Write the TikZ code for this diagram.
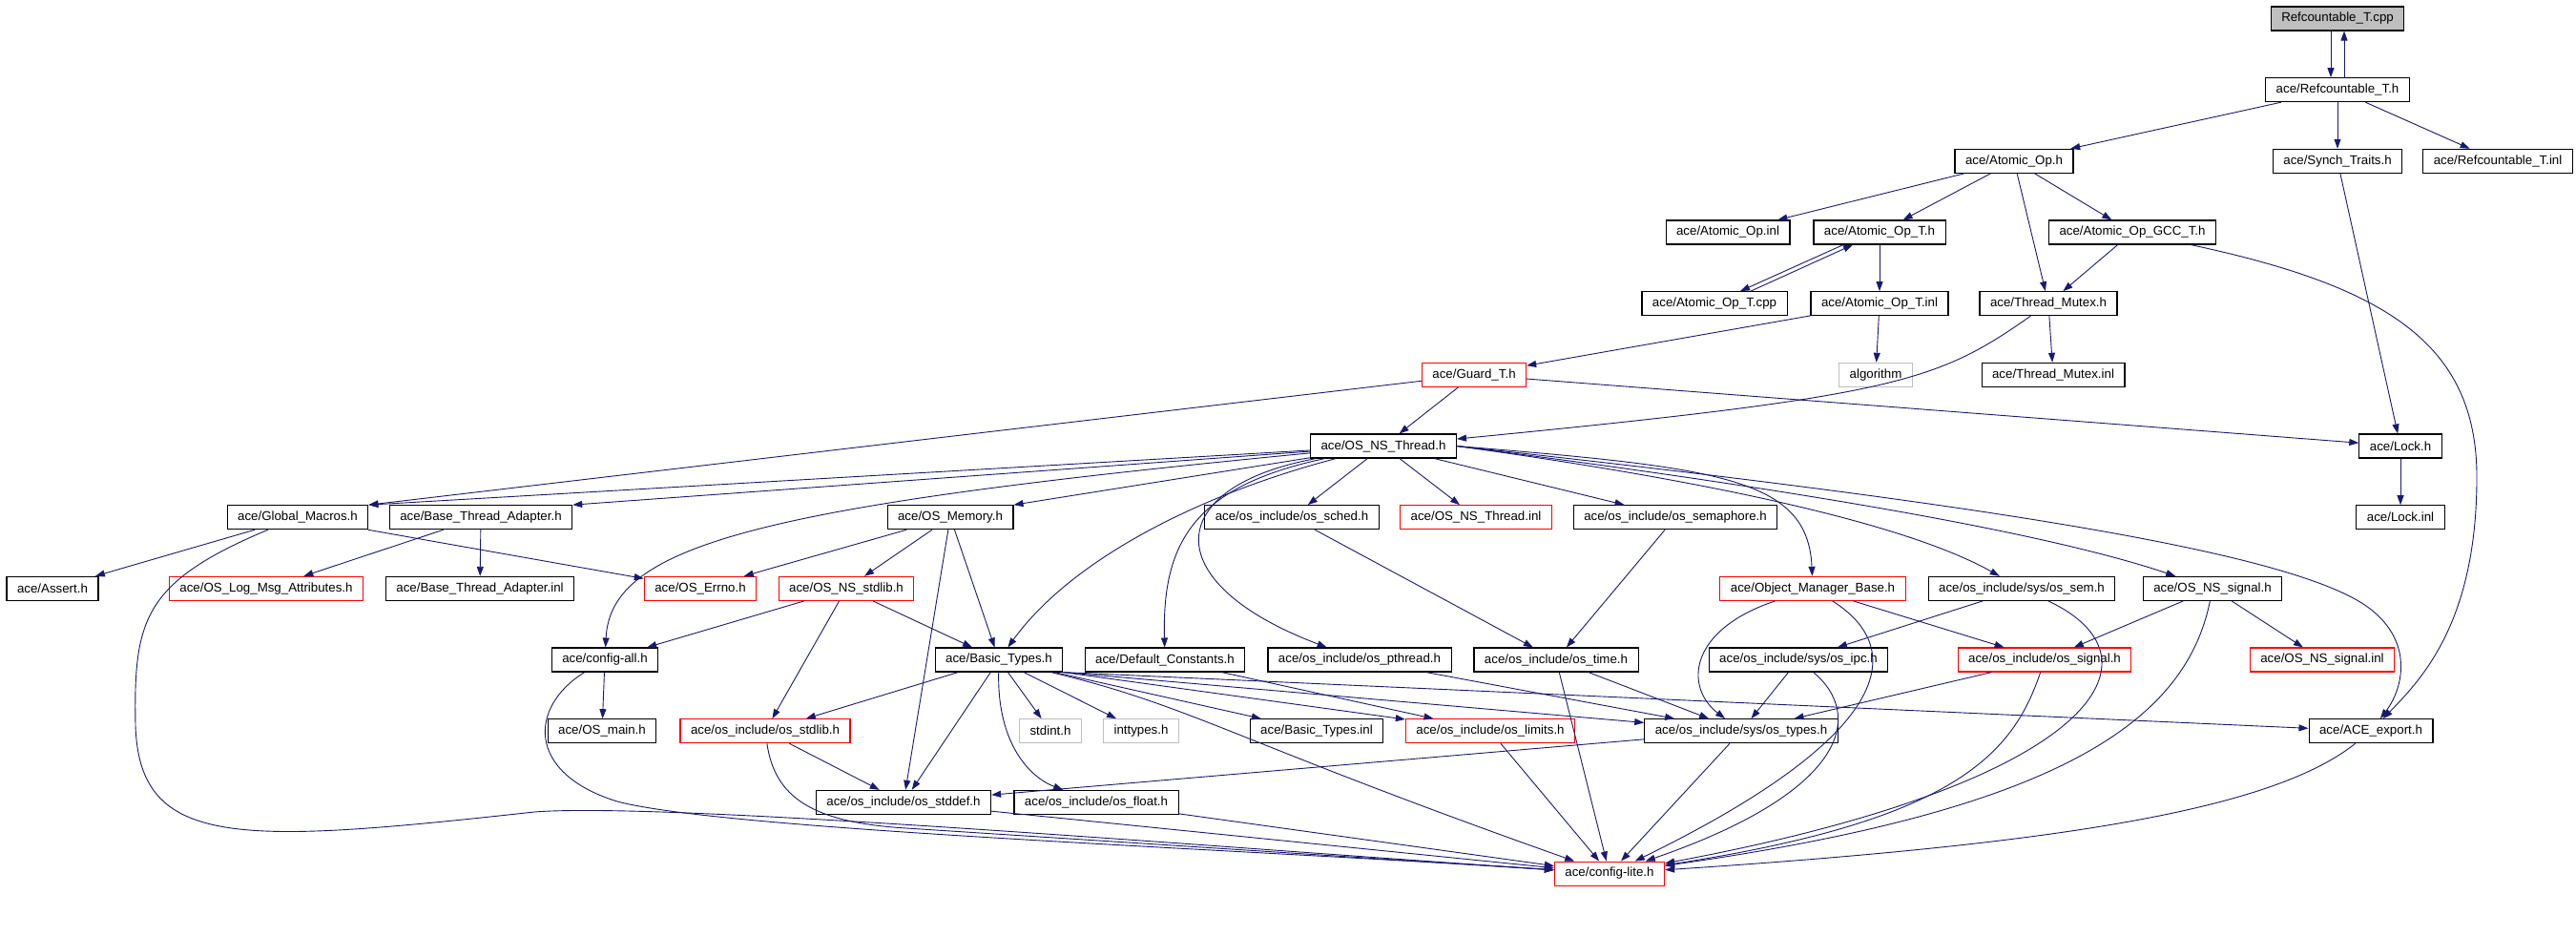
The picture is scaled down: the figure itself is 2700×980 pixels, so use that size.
\documentclass[tikz,border=0pt]{standalone}
\usepackage{fontspec}
\setmainfont{Liberation Sans}
\usetikzlibrary{positioning,arrows.meta}
\definecolor{edgeblue}{RGB}{25,25,112}
\definecolor{rootgray}{RGB}{191,191,191}
\tikzstyle{hdr} = [rectangle, draw=black, line width=1.1pt, minimum height=25pt, inner xsep=11pt, inner ysep=0pt, font=\fontsize{13.3}{16}\selectfont]
\tikzstyle{redhdr} = [hdr, draw=red]
\tikzstyle{syshdr} = [hdr, draw=rootgray]
\tikzstyle{root} = [hdr, fill=rootgray]
\tikzstyle{arrow} = [draw=edgeblue, line width=0.9pt, -{Triangle[length=10pt,width=7pt]}]

\begin{document}
\begin{tikzpicture}[x=1pt,y=-1pt,node distance=74.67pt]
\useasboundingbox (0,0) rectangle (2700,980);
 \node (cpp) [root] at (2450,19.5) {Refcountable\_T.cpp};
 \node (refh) [hdr,below of=cpp] {ace/Refcountable\_T.h};
  \node (atomic) [hdr,below of=refh,xshift=-339pt] {ace/Atomic\_Op.h};
  \node (synch) [hdr,below of=refh] {ace/Synch\_Traits.h};
  \node (refinl) [hdr,below of=refh,xshift=168pt] {ace/Refcountable\_T.inl};
\node (atomicinl) [hdr,below of=atomic,xshift=-300pt] {ace/Atomic\_Op.inl};
\node (atomict) [hdr,below of=atomic,xshift=-141pt] {ace/Atomic\_Op\_T.h};
\node (gcc) [hdr,below of=atomic,xshift=124pt] {ace/Atomic\_Op\_GCC\_T.h};
\node (atomictcpp) [hdr,below of=atomict,xshift=-173pt] {ace/Atomic\_Op\_T.cpp};
\node (atomictinl) [hdr,below of=atomict] {ace/Atomic\_Op\_T.inl};
\node (mutex) [hdr,below of=gcc,xshift=-88pt] {ace/Thread\_Mutex.h};
\node (guard) [redhdr,below of=atomictinl,xshift=-425pt] {ace/Guard\_T.h};
\node (algorithm) [syshdr,below of=atomictinl,xshift=-4pt] {algorithm};
\node (mutexinl) [hdr,below of=mutex,xshift=5pt] {ace/Thread\_Mutex.inl};
  \node (thread) [hdr,below of=guard,xshift=-95pt] {ace/OS\_NS\_Thread.h};
  \node (lock) [hdr,below of=mutexinl,xshift=364pt] {ace/Lock.h};
\node (macros) [hdr,below of=thread,xshift=-1138pt] {ace/Global\_Macros.h};
\node (bta) [hdr,below of=thread,xshift=-946pt] {ace/Base\_Thread\_Adapter.h};
\node (memory) [hdr,below of=thread,xshift=-454pt] {ace/OS\_Memory.h};
\node (sched) [hdr,below of=thread,xshift=-96pt] {ace/os\_include/os\_sched.h};
\node (threadinl) [redhdr,below of=thread,xshift=97pt] {ace/OS\_NS\_Thread.inl};
\node (semaphore) [hdr,below of=thread,xshift=306pt] {ace/os\_include/os\_semaphore.h};
\node (lockinl) [hdr,below of=lock] {ace/Lock.inl};
\node (assert) [hdr,below of=macros,xshift=-257pt] {ace/Assert.h};
\node (logmsg) [redhdr,below of=bta,xshift=-225pt] {ace/OS\_Log\_Msg\_Attributes.h};
\node (btainl) [hdr,below of=bta,xshift=-1pt] {ace/Base\_Thread\_Adapter.inl};
\node (errno) [redhdr,below of=memory,xshift=-262pt] {ace/OS\_Errno.h};
\node (stdlib) [redhdr,below of=memory,xshift=-109pt] {ace/OS\_NS\_stdlib.h};
\node (omb) [redhdr,below of=semaphore,xshift=144pt] {ace/Object\_Manager\_Base.h};
\node (syssem) [hdr,below of=semaphore,xshift=363pt] {ace/os\_include/sys/os\_sem.h};
\node (signal) [hdr,below of=semaphore,xshift=563pt] {ace/OS\_NS\_signal.h};
\node (configall) [hdr,below of=stdlib,xshift=-253pt] {ace/config-all.h};
\node (basic) [hdr,below of=stdlib,xshift=160pt] {ace/Basic\_Types.h};
\node (defconst) [hdr,below of=stdlib,xshift=334pt] {ace/Default\_Constants.h};
\node (pthread) [hdr,below of=stdlib,xshift=538pt] {ace/os\_include/os\_pthread.h};
\node (time) [hdr,below of=omb,xshift=-269pt] {ace/os\_include/os\_time.h};
\node (ipc) [hdr,below of=omb,xshift=-15pt] {ace/os\_include/sys/os\_ipc.h};
\node (ossignal) [redhdr,below of=syssem,xshift=24pt] {ace/os\_include/os\_signal.h};
\node (signalinl) [redhdr,below of=signal,xshift=115pt] {ace/OS\_NS\_signal.inl};
\node (osmain) [hdr,below of=configall,xshift=-3pt] {ace/OS\_main.h};
\node (osstdlib) [redhdr,below of=basic,xshift=-245pt] {ace/os\_include/os\_stdlib.h};
\node (stdint) [syshdr,below of=basic,xshift=54pt] {stdint.h};
\node (inttypes) [syshdr,below of=basic,xshift=149pt] {inttypes.h};
\node (basicinl) [hdr,below of=basic,xshift=333pt] {ace/Basic\_Types.inl};
\node (limits) [redhdr,below of=basic,xshift=515pt] {ace/os\_include/os\_limits.h};
\node (types) [hdr,below of=ipc,xshift=-60pt] {ace/os\_include/sys/os\_types.h};
\node (export) [hdr,below of=signalinl,xshift=51pt] {ace/ACE\_export.h};
\node (stddef) [hdr,below of=osstdlib,xshift=145pt] {ace/os\_include/os\_stddef.h};
\node (float) [hdr,below of=osstdlib,xshift=347pt] {ace/os\_include/os\_float.h};
\node (lite) [redhdr,below of=float,xshift=538pt] {ace/config-lite.h};
\draw [arrow] ([xshift=-7pt]cpp.south) -- ([xshift=-7pt]refh.north);
\draw [arrow] ([xshift=7pt]refh.north) -- ([xshift=7pt]cpp.south);
\draw [arrow] (refh) -- (atomic);
\draw [arrow] (refh) -- (synch);
\draw [arrow] (refh) -- (refinl);
\draw [arrow] (atomic) -- (atomicinl);
\draw [arrow] (atomic) -- (atomict);
\draw [arrow] (atomic) -- (mutex);
\draw [arrow] (atomic) -- (gcc);
\draw [arrow] ([xshift=-38pt]atomict.south) -- ([xshift=27pt]atomictcpp.north);
\draw [arrow] ([xshift=38pt]atomictcpp.north) -- ([xshift=-28pt]atomict.south);
\draw [arrow] (atomict) -- (atomictinl);
\draw [arrow] (atomictinl) -- (algorithm);
\draw [arrow] (atomictinl) -- (guard);
\draw [arrow] (gcc) -- (mutex);
\draw [arrow] (gcc) .. controls (2500,300) and (2596,360) .. (2596,500) .. controls (2596,650) and (2540,710) .. (export);
\draw [arrow] (mutex) -- (mutexinl);
\draw [arrow] (mutex) .. controls (2030,400) and (1990,415) .. (thread);
\draw [arrow] (synch) -- (lock);
\draw [arrow] (guard) -- (thread);
\draw [arrow] (guard) -- (lock);
\draw [arrow] (guard) -- (macros.north east);
\draw [arrow] (lock) -- (lockinl);
\draw [arrow] (thread) -- (macros.north east);
\draw [arrow] (thread) -- (bta.north east);
\draw [arrow] (thread) -- (memory.north east);
\draw [arrow] (thread) .. controls (800,530) and (640,570) .. (configall);
\draw [arrow] (thread) .. controls (1250,520) and (1120,590) .. (basic);
\draw [arrow] (thread) .. controls (1250,510) and (1218,570) .. (defconst);
\draw [arrow] (thread) .. controls (1220,510) and (1210,610) .. (pthread);
\draw [arrow] (thread) -- (sched);
\draw [arrow] (thread) -- (threadinl);
\draw [arrow] (thread) -- (semaphore);
\draw [arrow] (thread.east) .. controls (1800,490) and (1895,500) .. (omb);
\draw [arrow] (thread.east) .. controls (1800,505) and (2000,550) .. (syssem);
\draw [arrow] (thread.east) .. controls (1900,515) and (2150,560) .. (signal);
\draw [arrow] (thread.east) .. controls (2100,530) and (2400,580) .. (2480,635) .. controls (2530,670) and (2520,720) .. (export);
\draw [arrow] (macros) -- (assert);
\draw [arrow] (macros) -- (errno);
\draw [arrow] (macros) .. controls (150,610) and (140,650) .. (142,760) .. controls (146,890) and (250,885) .. (560,851) .. controls (700,840) and (1300,890) .. (lite);
\draw [arrow] (bta) -- (logmsg);
\draw [arrow] (bta) -- (btainl);
\draw [arrow] (memory) -- (errno);
\draw [arrow] (memory) -- (stdlib);
\draw [arrow] (memory) -- (stddef);
\draw [arrow] (memory) -- (basic);
\draw [arrow] (stdlib) -- (configall);
\draw [arrow] (stdlib) -- (osstdlib);
\draw [arrow] (stdlib) -- (basic);
\draw [arrow] (configall) -- (osmain);
\draw [arrow] (configall) .. controls (555,740) and (550,810) .. (647,840) .. controls (760,870) and (1300,890) .. (lite);
\draw [arrow] (sched) -- (time);
\draw [arrow] (semaphore) -- (time);
\draw [arrow] (omb) .. controls (1770,660) and (1765,720) .. (types);
\draw [arrow] (omb) -- (ossignal);
\draw [arrow] (omb) .. controls (2000,680) and (1985,770) .. (lite);
\draw [arrow] (syssem) -- (ipc);
\draw [arrow] (syssem) .. controls (2275,690) and (2200,820) .. (lite);
\draw [arrow] (signal) -- (ossignal);
\draw [arrow] (signal) -- (signalinl);
\draw [arrow] (signal) .. controls (2290,760) and (2150,850) .. (lite);
\draw [arrow] (basic) -- (osstdlib);
\draw [arrow] (basic) -- (stddef);
\draw [arrow] (basic) .. controls (1045,780) and (1080,815) .. (float);
\draw [arrow] (basic) -- (stdint);
\draw [arrow] (basic) -- (inttypes);
\draw [arrow] (basic) -- (basicinl);
\draw [arrow] (basic.south east) -- (limits);
\draw [arrow] (basic.south east) -- (types);
\draw [arrow] (basic.south east) -- (export);
\draw [arrow] (basic) .. controls (1250,740) and (1290,775) .. (lite);
\draw [arrow] (defconst) -- (limits);
\draw [arrow] (pthread) -- (types);
\draw [arrow] (time) -- (types);
\draw [arrow] (time) -- (lite);
\draw [arrow] (ipc) -- (types);
\draw [arrow] (ipc) .. controls (1955,750) and (1935,830) .. (lite);
\draw [arrow] (ossignal) -- (types);
\draw [arrow] (ossignal) .. controls (2110,790) and (2050,860) .. (lite);
\draw [arrow] (osstdlib) -- (stddef);
\draw [arrow] (osstdlib) .. controls (812,835) and (850,862) .. (950,868) -- (lite);
\draw [arrow] (limits) -- (lite);
\draw [arrow] (types) -- (stddef);
\draw [arrow] (types) -- (lite);
\draw [arrow] (export) .. controls (2380,850) and (2150,885) .. (lite);
\draw [arrow] (stddef) -- (lite);
\draw [arrow] (float) -- (lite);
  \end{tikzpicture}
\end{document}
